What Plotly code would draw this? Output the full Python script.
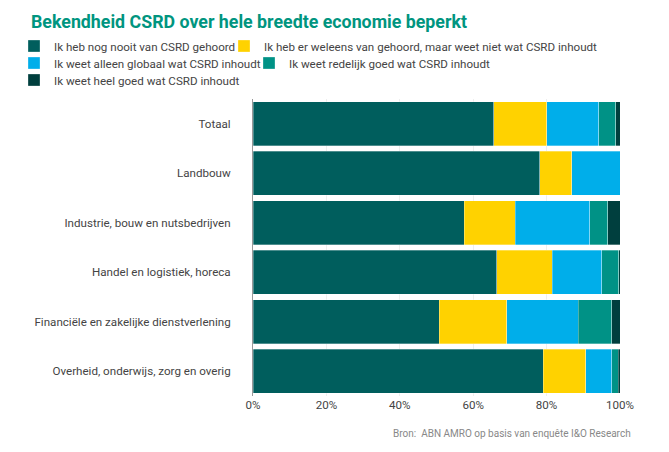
import plotly.graph_objects as go

# sectors, top to bottom
sectors = [
    "Totaal",
    "Landbouw",
    "Industrie, bouw en nutsbedrijven",
    "Handel en logistiek, horeca",
    "Financiële en zakelijke dienstverlening",
    "Overheid, onderwijs, zorg en overig",
]

# share of respondents per answer (%)
nooit = [65.6, 78.2, 57.5, 66.4, 50.7, 79.1]
weleens = [14.4, 8.6, 14.0, 15.1, 18.4, 11.5]
globaal = [14.2, 13.2, 20.3, 13.5, 19.5, 7.1]
redelijk = [4.6, 0.0, 4.8, 4.7, 9.1, 1.8]
heel_goed = [1.2, 0.0, 3.4, 0.3, 2.3, 0.5]

series = [
    ("Ik heb nog nooit van CSRD gehoord", nooit, "#005e5d"),
    ("Ik heb er weleens van gehoord, maar weet niet wat CSRD inhoudt", weleens, "#ffd200"),
    ("Ik weet alleen globaal wat CSRD inhoudt", globaal, "#00aeea"),
    ("Ik weet redelijk goed wat CSRD inhoudt", redelijk, "#009286"),
    ("Ik weet heel goed wat CSRD inhoudt", heel_goed, "#003f3e"),
]

# the page body adds an 8px offset, so figure coords are screen coords - 8
W, H = 669, 452
L, R, T, B = 245, 57, 91, 64
pw, ph = W - L - R, H - T - B
FS = 11.6

# one legend per entry so the rows wrap like the original
legend_pos = [(6, 38), (216, 38), (6, 55), (241, 55), (6, 72)]
legend_ids = ["legend", "legend2", "legend3", "legend4", "legend5"]

fig = go.Figure()
for (name, vals, col), lid in zip(series, legend_ids):
    fig.add_trace(go.Bar(
        y=sectors, x=vals, name=name, orientation="h", legend=lid,
        marker=dict(color=col, line=dict(color="rgba(255,255,255,0.6)", width=0.5)),
    ))

legends = {}
for lid, (lx, ly) in zip(legend_ids, legend_pos):
    legends[lid] = dict(
        orientation="h", x=(lx - L) / pw, xanchor="left",
        y=1 + (T - ly) / ph, yanchor="middle",
        font=dict(size=FS, color="#444"), bgcolor="rgba(0,0,0,0)",
    )

fig.update_layout(
    barmode="stack",
    bargap=0.12,
    width=W, height=H,
    margin=dict(l=L, r=R, t=T, b=B, autoexpand=False),
    plot_bgcolor="white", paper_bgcolor="white",
    font=dict(family="Roboto", size=FS, color="#444"),
    title=dict(
        text="<b>Bekendheid CSRD over hele breedte economie beperkt</b>",
        x=23 / W, xref="container", xanchor="left",
        y=1 - 14 / H, yref="container", yanchor="middle",
        font=dict(family="Roboto", size=17.8, color="#00957f"),
    ),
    showlegend=True,
    **legends,
)

fig.update_xaxes(
    range=[0, 100], tickvals=[0, 20, 40, 60, 80, 100],
    ticktext=["0%", "20%", "40%", "60%", "80%", "100%"],
    showgrid=True, gridcolor="#eeeeee", gridwidth=1,
    zeroline=False, tickfont=dict(size=FS, color="#444"),
    ticks="", fixedrange=True,
)
fig.update_yaxes(
    autorange="reversed", showline=True, linecolor="#999", linewidth=1,
    ticks="", ticklabelstandoff=19, tickfont=dict(size=FS, color="#444"),
)

fig.add_annotation(
    text="Bron:  ABN AMRO op basis van enquête I&O Research",
    xref="paper", yref="paper", x=(625 - L) / pw, y=-(425 - (H - B)) / ph,
    xanchor="right", yanchor="middle", showarrow=False,
    font=dict(size=10, color="#888"),
)

fig.write_html("out.html")
